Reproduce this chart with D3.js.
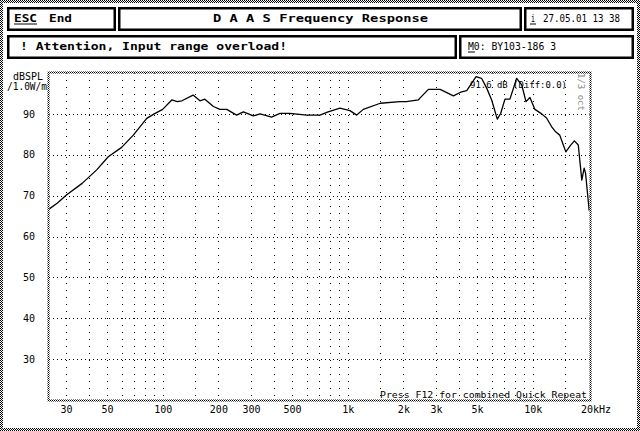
<!DOCTYPE html>
<html><head><meta charset="utf-8">
<script src="https://cdn.jsdelivr.net/npm/d3@7"></script>
<style>
html,body{margin:0;padding:0;background:#fff;}
svg{display:block;}
text{font-family:"DejaVu Sans Mono",monospace;fill:#000;}
</style></head>
<body>
<script>
// ---- data ----
const freqs = [24.3,27,30.3,36.7,44,50.8,60,69.4,82,90,100,112,120,127,146,159,169,188,204,222,251,273,309,336,388,430,487,600,708,784,908,1028,1119,1214,1500,1917,2080,2410,2450,2730,3160,3727,4080,4400,4940,5290,5640,6000,6435,6710,7080,7530,8190,8720,9200,9660,10280,11180,11880,12640,13300,14000,14600,15100,16000,16800,17630,18420,18970,19300,19980,20200];
const spl   = [66.7,68.2,70.2,73.0,76.3,79.5,81.8,84.8,88.9,90.0,91.1,93.4,93.0,93.2,94.6,93.2,93.6,91.8,91.1,91.1,89.7,90.5,89.5,90.0,89.2,90.1,90.1,89.7,89.7,90.5,91.4,90.8,89.7,91.1,92.6,93.0,93.0,93.4,93.8,96.0,96.0,94.4,95.3,95.7,99.1,98.7,96.3,93.4,88.7,90.1,93.6,93.6,98.7,97.1,93.0,94.0,91.1,90.0,89.0,86.9,85.6,84.8,82.5,80.7,82.3,83.4,82.4,73.8,76.7,75.5,68.5,66.3];
const yTicks = [30,40,50,60,70,80,90];
const yGrid = [30,40,50,60,70,80,90];
const xTickValues = [30,50,100,200,300,500,1000,2000,3000,5000,10000,20000];
const xTickText = ["30","50","100","200","300","500","1k","2k","3k","5k","10k","20kHz"];
const xGrid = [30,40,50,60,70,80,90,100,150,200,300,400,500,600,700,800,900,1000,1500,2000,3000,4000,5000,6000,7000,8000,9000,10000,15000];

const W = 640, H = 431;
const svg = d3.select("body").append("svg").attr("width",W).attr("height",H);
svg.append("rect").attr("width",W).attr("height",H).attr("fill","#fff");
const defs = svg.append("defs");
const pat = defs.append("pattern").attr("id","chk").attr("width",2).attr("height",2).attr("patternUnits","userSpaceOnUse");
pat.append("rect").attr("width",2).attr("height",2).attr("fill","#fff");
pat.append("rect").attr("x",0).attr("y",0).attr("width",1).attr("height",1).attr("fill","#000");
pat.append("rect").attr("x",1).attr("y",1).attr("width",1).attr("height",1).attr("fill","#000");

// outer dithered frame
svg.append("rect").attr("x",1.5).attr("y",1.5).attr("width",W-3).attr("height",H-3)
  .attr("fill","none").attr("stroke","url(#chk)").attr("stroke-width",3);

// header boxes
const boxes = [[7,7,116,31],[118,7,522,31],[524,7,634,31],[7,35,457,59],[459,35,634,59]];
boxes.forEach(b=>{
  svg.append("rect").attr("x",b[0]+1.25).attr("y",b[1]+1.25).attr("width",b[2]-b[0]-2.5).attr("height",b[3]-b[1]-2.5)
    .attr("fill","#fff").attr("stroke","#000").attr("stroke-width",2.5);
});
function txt(s,x,y,size,weight,len){
  const t = svg.append("text").attr("x",x).attr("y",y).attr("font-size",size).attr("font-weight",weight).text(s);
  if(len){t.attr("textLength",len).attr("lengthAdjust","spacingAndGlyphs");}
  return t;
}
txt("ESC",14,22,11,"bold",23);
svg.append("line").attr("x1",14).attr("x2",37).attr("y1",24).attr("y2",24).attr("stroke","#000").attr("stroke-width",1);
txt("End",49,22,11,"bold",23);
txt("D A A S  Frequency Response",213,22,11,"bold",215);
txt("i",531,22,10,"normal",4);
svg.append("line").attr("x1",530).attr("x2",536).attr("y1",24).attr("y2",24).attr("stroke","#000");
txt("27.05.01 13 38",543,22,10,"normal",77);
txt("! Attention, Input range overload!",20,50,11,"bold",267);
txt("M0: BY103-186 3",468,50,10,"normal",88);
svg.append("line").attr("x1",468).attr("x2",475).attr("y1",52).attr("y2",52).attr("stroke","#000");

// plot
const x0=49,x1=590,y0=73,y1=400;
const x = d3.scaleLog().domain([24.3,20400]).range([x0,x1]);
const y = d3.scaleLinear().domain([20,100]).range([y1,y0]);

const g = svg.append("g");
g.selectAll(".hg").data(yGrid).enter().append("line")
  .attr("x1",x0).attr("x2",x1).attr("y1",d=>Math.round(y(d))+0.5).attr("y2",d=>Math.round(y(d))+0.5)
  .attr("stroke","#000").attr("stroke-width",1).attr("stroke-dasharray","1,3");
g.selectAll(".vg").data(xGrid).enter().append("line")
  .attr("x1",d=>Math.round(x(d))+0.5).attr("x2",d=>Math.round(x(d))+0.5).attr("y1",y0).attr("y2",y1)
  .attr("stroke","#000").attr("stroke-width",1).attr("stroke-dasharray","1,6");

// annotation texts inside plot
txt("91.6 dB (Diff:0.0)",470,88,9,"normal",97);
txt("Press F12 for combined Quick Repeat",380,398,9.5,"normal",207);
svg.append("text").attr("transform","translate(578,73) rotate(90)").attr("font-size",9)
  .attr("fill","#777").style("fill","#888").text("1/3 oct");

// curve
const line = d3.line().x((d,i)=>x(freqs[i])).y(d=>y(d));
g.append("path").datum(spl).attr("d",line).attr("fill","none").attr("stroke","#000").attr("stroke-width",1.3).attr("stroke-linejoin","round");

// plot frame
svg.append("rect").attr("x",x0-0.5).attr("y",y0-0.5).attr("width",x1-x0+1).attr("height",y1-y0+1)
  .attr("fill","none").attr("stroke","url(#chk)").attr("stroke-width",2);

// axes
const ya = d3.axisLeft(y).tickValues(yTicks).tickSize(0).tickPadding(14).tickFormat(d3.format("d"));
const yg = svg.append("g").attr("transform",`translate(${x0},0)`).call(ya);
yg.select(".domain").remove();
yg.selectAll("text").attr("font-size",10).style("font-family","DejaVu Sans Mono");

const xa = d3.axisBottom(x).tickValues(xTickValues).tickSize(0).tickPadding(6).tickFormat((d,i)=>xTickText[i]);
const xg = svg.append("g").attr("transform",`translate(0,${y1})`).call(xa);
xg.select(".domain").remove();
xg.selectAll("text").attr("font-size",10).style("font-family","DejaVu Sans Mono");
xg.selectAll(".tick").filter(d=>d===20000).select("text").attr("text-anchor","start").attr("x",-8);

txt("dBSPL",13,80,10,"normal",30);
txt("/1.0W/m",7,90,10,"normal",40);
</script>
</body></html>
